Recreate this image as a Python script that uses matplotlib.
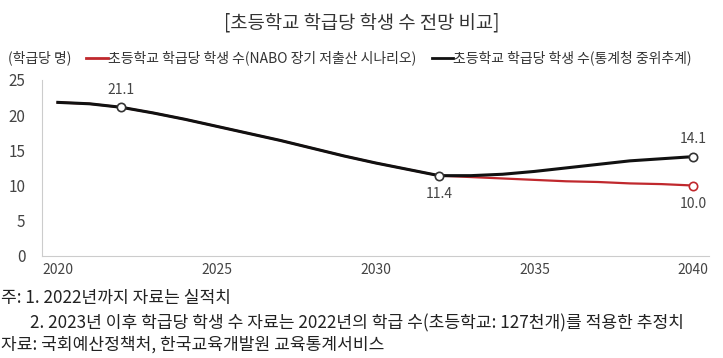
import matplotlib.pyplot as plt

plt.rcParams['font.family'] = ['Noto Sans CJK KR', 'DejaVu Sans']

years = list(range(2020, 2041))
# 통계청 중위추계
stat_kr = [21.8, 21.6, 21.1, 20.3, 19.4, 18.4, 17.4, 16.4, 15.3, 14.2, 13.2,
           12.3, 11.4, 11.4, 11.6, 12.0, 12.5, 13.0, 13.5, 13.8, 14.1]
# NABO 장기 저출산 시나리오
nabo = [21.8, 21.6, 21.1, 20.3, 19.4, 18.4, 17.4, 16.4, 15.3, 14.2, 13.2,
        12.3, 11.4, 11.2, 11.0, 10.8, 10.6, 10.5, 10.3, 10.2, 10.0]

xticks = [2020, 2025, 2030, 2035, 2040]
yticks = [0, 5, 10, 15, 20, 25]

fig = plt.figure(figsize=(7.23, 3.58), dpi=100)
ax = fig.add_axes([0.058, 0.285, 0.923, 0.492])

ax.plot(years, nabo, color='#c0282d', lw=1.6, zorder=2)
ax.plot(years, stat_kr, color='#111111', lw=2.2, zorder=3)

# marked points
for yr, val, col in [(2022, stat_kr[2], '#333333'), (2032, stat_kr[12], '#333333'),
                     (2040, stat_kr[-1], '#333333'), (2040, nabo[-1], '#c0282d')]:
    ax.plot(yr, val, 'o', ms=6, mfc='white', mec=col, mew=1.2, zorder=4)

lbl = dict(ha='center', fontsize=10, color='#444444')
ax.text(2022, stat_kr[2] + 1.5, '21.1', va='bottom', **lbl)
ax.text(2032, stat_kr[12] - 1.6, '11.4', va='top', **lbl)
ax.text(2040, stat_kr[-1] + 1.5, '14.1', va='bottom', **lbl)
ax.text(2040, nabo[-1] - 1.6, '10.0', va='top', **lbl)

ax.set_xlim(2019.5, 2040.5)
ax.set_ylim(0, 25)
ax.set_xticks(xticks)
ax.set_yticks(yticks)
ax.tick_params(length=0, colors='#444444')
ax.tick_params(axis='x', pad=5, labelsize=10)
ax.tick_params(axis='y', pad=12, labelsize=11)
for s in ['top', 'right']:
    ax.spines[s].set_visible(False)
for s in ['left', 'bottom']:
    ax.spines[s].set_color('#cccccc')

fig.text(0.5, 0.935, '[초등학교 학급당 학생 수 전망 비교]', ha='center', va='center',
         fontsize=13.5, color='#333333')
fig.text(0.011, 0.838, '(학급당 명)', ha='left', va='center', fontsize=10, color='#333333')
fig.lines.append(plt.Line2D([0.119, 0.150], [0.838, 0.838], color='#c0282d', lw=2,
                            transform=fig.transFigure))
fig.text(0.150, 0.838, '초등학교 학급당 학생 수(NABO 장기 저출산 시나리오)', ha='left', va='center',
         fontsize=10, color='#333333')
fig.lines.append(plt.Line2D([0.597, 0.626], [0.838, 0.838], color='#111111', lw=2,
                            transform=fig.transFigure))
fig.text(0.626, 0.838, '초등학교 학급당 학생 수(통계청 중위추계)', ha='left', va='center',
         fontsize=10, color='#333333')

fig.text(0.002, 0.168, '주: 1. 2022년까지 자료는 실적치', ha='left', va='center',
         fontsize=12.3, color='#222222')
fig.text(0.042, 0.098, '2. 2023년 이후 학급당 학생 수 자료는 2022년의 학급 수(초등학교: 127천개)를 적용한 추정치',
         ha='left', va='center', fontsize=12.3, color='#222222')
fig.text(0.002, 0.036, '자료: 국회예산정책처, 한국교육개발원 교육통계서비스', ha='left', va='center',
         fontsize=12.3, color='#222222')

fig.savefig('out.png', dpi=100)
